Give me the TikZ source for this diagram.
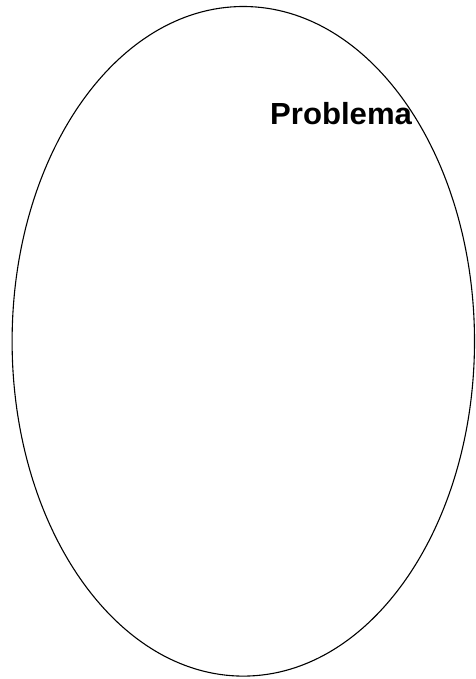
\documentclass[tikz,border=0pt]{standalone}
\usepackage{fontspec}
\setmainfont{Liberation Sans}
\begin{document}
\begin{tikzpicture}[x=1pt,y=-1pt,
  outline/.style={draw=black,line width=1.1pt},
  label/.style={font=\fontsize{30.5}{35}\selectfont\bfseries,inner sep=0pt,anchor=base west,xscale=1.02}]
\useasboundingbox (0,0) rectangle (475,679);
\draw[outline] (243.3,341.3) ellipse [x radius=231.2, y radius=334.8];
\node[label] (title) at (270.0,124.7) {Problema};
\end{tikzpicture}
\end{document}
